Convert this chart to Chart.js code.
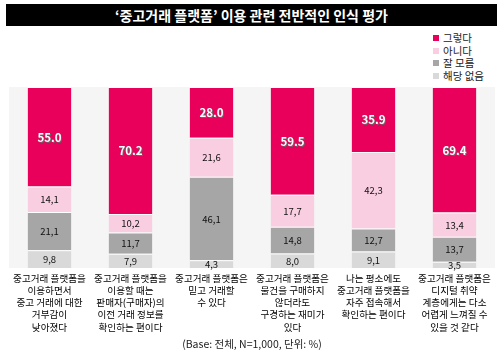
<!DOCTYPE html>
<html>
<head>
<meta charset="utf-8">
<script src="https://cdn.jsdelivr.net/npm/chart.js@4.4.1/dist/chart.umd.min.js"></script>
<style>
  body { margin: 0; background: #fff; font-family: "Noto Sans CJK KR", sans-serif; }
  #wrap { position: relative; width: 503px; height: 361px; }
  #title {
    position: absolute; left: 6px; top: 4px; width: 491px; height: 22px;
    background: #000; color: #fff; font-weight: bold; font-size: 14px;
    line-height: 22px; text-align: center;
  }
  #legend { position: absolute; left: 433px; top: 32px; font-size: 10.5px; color: #222; }
  #legend div { height: 12.6px; line-height: 12.6px; white-space: nowrap; }
  #legend span { display: inline-block; width: 6px; height: 6px; margin-right: 4px; vertical-align: 1px; }
  canvas { position: absolute; left: 0; top: 0; }
</style>
</head>
<body>
<div id="wrap">
  <div id="title">‘중고거래 플랫폼’ 이용 관련 전반적인 인식 평가</div>
  <div id="legend"></div>
  <canvas id="c" width="503" height="361"></canvas>
</div>
<script>
// 항목 (줄바꿈 단위)
const categories = [
    ['중고거래 플랫폼을', '이용하면서', '중고 거래에 대한', '거부감이', '낮아졌다'],
    ['중고거래 플랫폼을', '이용할 때는', '판매자(구매자)의', '이전 거래 정보를', '확인하는 편이다'],
    ['중고거래 플랫폼은', '믿고 거래할', '수 있다'],
    ['중고거래 플랫폼은', '물건을 구매하지', '않더라도', '구경하는 재미가', '있다'],
    ['나는 평소에도', '중고거래 플랫폼을', '자주 접속해서', '확인하는 편이다'],
    ['중고거래 플랫폼은', '디지털 취약', '계층에게는 다소', '어렵게 느껴질 수', '있을 것 같다']
];
const seriesNames = ['그렇다', '아니다', '잘 모름', '해당 없음'];
const yesValues = [55.0, 70.2, 28.0, 59.5, 35.9, 69.4];
const noValues = [14.1, 10.2, 21.6, 17.7, 42.3, 13.4];
const unsureValues = [21.1, 11.7, 46.1, 14.8, 12.7, 13.7];
const naValues = [9.8, 7.9, 4.3, 8.0, 9.1, 3.5];
const colors = ['#E8005A', '#F9CEE1', '#A6A6A6', '#D9D9D9'];
const footnote = '(Base: 전체, N=1,000, 단위: %)';

// 범례
const legendEl = document.getElementById('legend');
seriesNames.forEach((name, i) => {
    const row = document.createElement('div');
    row.innerHTML = '<span style="background:' + colors[i] + '"></span>' + name;
    legendEl.appendChild(row);
});

const mk = (idx, values) => ({
    label: seriesNames[idx],
    data: values,
    backgroundColor: colors[idx],
    borderColor: '#fff',
    borderWidth: { top: 1, bottom: 0, left: 0, right: 0 },
    borderSkipped: false,
    categoryPercentage: 1,
    barPercentage: 0.54
});

const plotBg = {
    id: 'plotBg',
    beforeDraw(chart) {
        const { ctx, chartArea: a } = chart;
        ctx.save();
        ctx.fillStyle = '#F5F5F5';
        ctx.fillRect(a.left, a.top, a.right - a.left, a.bottom - a.top);
        ctx.restore();
    }
};

const valueLabels = {
    id: 'valueLabels',
    afterDatasetsDraw(chart) {
        const ctx = chart.ctx;
        ctx.save();
        ctx.textAlign = 'center';
        ctx.textBaseline = 'middle';
        chart.data.datasets.forEach((ds, di) => {
            const meta = chart.getDatasetMeta(di);
            meta.data.forEach((bar, i) => {
                const v = ds.data[i];
                const y = (bar.y + bar.base) / 2 + 0.5;
                if (ds.label === '그렇다') {
                    ctx.font = 'bold 11.5px "Noto Sans CJK KR"';
                    ctx.fillStyle = '#666';
                    ctx.fillText(v.toFixed(1), bar.x + 1, y + 1);
                    ctx.fillStyle = '#fff';
                    ctx.fillText(v.toFixed(1), bar.x, y);
                } else {
                    ctx.font = '9.5px "Noto Sans CJK KR"';
                    ctx.fillStyle = '#111';
                    ctx.fillText(v.toFixed(1).replace('.', ','), bar.x, y);
                }
            });
        });
        ctx.restore();
    }
};

new Chart(document.getElementById('c'), {
    type: 'bar',
    data: {
        labels: categories,
        datasets: [mk(3, naValues), mk(2, unsureValues), mk(1, noValues), mk(0, yesValues)]
    },
    options: {
        responsive: false,
        animation: false,
        layout: { padding: { left: 9, right: 8, top: 87, bottom: 0 } },
        plugins: { legend: { display: false }, tooltip: { enabled: false } },
        scales: {
            x: {
                stacked: true,
                grid: { display: false, drawTicks: false },
                border: { display: false },
                afterFit: (s) => { s.height = 93; },
                ticks: {
                    maxRotation: 0, autoSkip: false, padding: 4, color: '#000',
                    font: { family: '"Noto Sans CJK KR"', size: 9.6, lineHeight: 1.27 }
                },
                title: {
                    display: true, text: footnote, color: '#222',
                    font: { family: '"Noto Sans CJK KR"', size: 10.5, lineHeight: 1.2 },
                    padding: { top: 0, bottom: 11 }
                }
            },
            y: { stacked: true, display: false, min: 0, max: 100 }
        }
    },
    plugins: [plotBg, valueLabels]
});
</script>
</body>
</html>
